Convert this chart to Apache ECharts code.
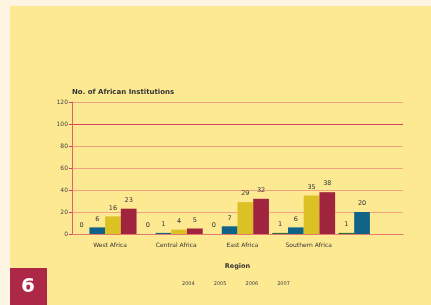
<!DOCTYPE html>
<html>
<head>
    <title>No. of African Institutions</title>
    <script src="https://cdn.jsdelivr.net/npm/echarts@6/dist/echarts.min.js"></script>
    <style>
        html, body {
            margin: 0;
            padding: 0;
            background: #fdf5e1;
        }
        #chart {
            width: 431px;
            height: 305px;
        }
    </style>
</head>
<body>
    <div id="chart"></div>

    <script>
        const regions = ['West Africa', 'Central Africa', 'East Africa', 'Southern Africa', ''];
        const years = ['2004', '2005', '2006', '2007'];
        const values2004 = [0, 0, 0, 1, 1];
        const values2005 = [6, 1, 7, 6, 20];
        const values2006 = [16, 4, 29, 35, null];
        const values2007 = [23, 5, 32, 38, null];
        const yearColors = ['#2d6b36', '#0e6387', '#dcc124', '#a1243f'];

        const seriesValues = [values2004, values2005, values2006, values2007];

        const chart = echarts.init(document.getElementById('chart'));

        chart.setOption({
            animation: false,
            textStyle: { fontFamily: 'DejaVu Sans' },
            graphic: [
                {
                    type: 'rect',
                    shape: { x: 10, y: 6, width: 421, height: 299 },
                    style: { fill: '#fde992' },
                    z: -10
                },
                {
                    type: 'rect',
                    shape: { x: 10, y: 268, width: 37, height: 37 },
                    style: { fill: '#ad2847' },
                    z: 10
                },
                {
                    type: 'text',
                    x: 28,
                    y: 287,
                    style: {
                        text: '6',
                        fill: '#fff',
                        font: 'bold 20px "DejaVu Sans"',
                        align: 'center',
                        verticalAlign: 'middle'
                    },
                    z: 11
                }
            ],
            title: {
                text: 'No. of African Institutions',
                left: 67,
                top: 80,
                textStyle: { fontSize: 7, fontWeight: 'bold', color: '#333' }
            },
            legend: {
                data: years,
                left: 172,
                top: 274,
                itemWidth: 0,
                itemHeight: 0,
                itemGap: 14,
                textStyle: { fontSize: 5, color: '#444' }
            },
            grid: {
                left: 72,
                right: 28,
                top: 102,
                bottom: 71
            },
            xAxis: {
                type: 'category',
                data: regions,
                name: 'Region',
                nameLocation: 'middle',
                nameGap: 25,
                nameTextStyle: { fontSize: 6.5, fontWeight: 'bold', color: '#333' },
                axisLine: { lineStyle: { color: '#e27a72', width: 1 } },
                axisTick: { lineStyle: { color: '#d8405a' }, length: 4 },
                axisLabel: { fontSize: 6, color: '#333', margin: 5, padding: [0, 0, 0, 10] },
                splitLine: { show: false }
            },
            yAxis: {
                type: 'value',
                min: 0,
                max: 120,
                interval: 20,
                axisLine: { show: true, lineStyle: { color: '#e0606a' } },
                axisTick: { show: true, lineStyle: { color: '#d8405a' }, length: 3 },
                axisLabel: { fontSize: 6, color: '#444', margin: 4 },
                splitLine: {
                    lineStyle: {
                        color: ['#e27a72', '#f2a185', '#f2a185', '#f2a185', '#f2a185', '#d8405a', '#f2a185'],
                        width: 1
                    }
                }
            },
            series: years.map((year, i) => ({
                name: year,
                type: 'bar',
                data: seriesValues[i],
                barGap: '0%',
                barCategoryGap: '5%',
                itemStyle: { color: yearColors[i] },
                label: {
                    show: true,
                    position: 'top',
                    distance: 2,
                    fontSize: 6.5,
                    color: '#333'
                }
            }))
        });
    </script>
</body>
</html>
